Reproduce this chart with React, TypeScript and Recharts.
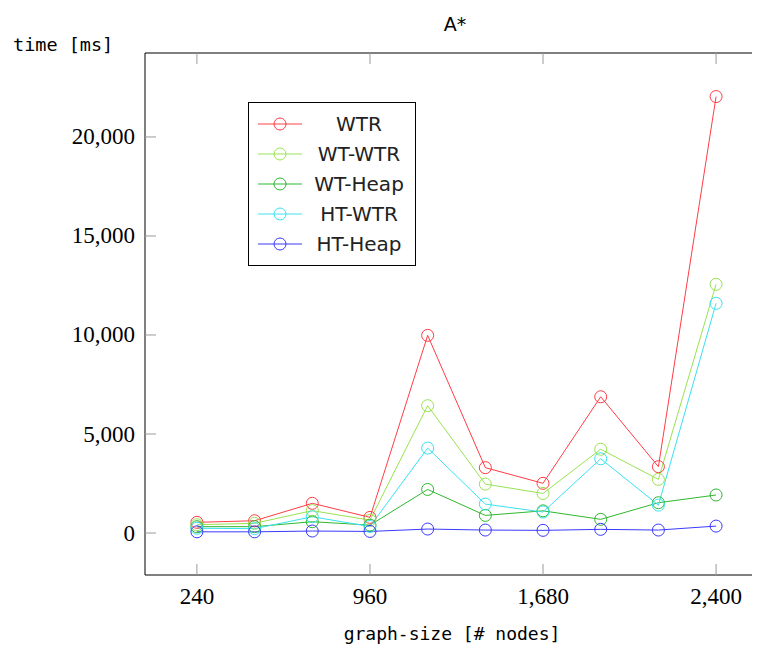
import React from "react";
import { LineChart, Line, XAxis, YAxis, ReferenceArea } from "recharts";

const sizes = [240, 480, 720, 960, 1200, 1440, 1680, 1920, 2160, 2400];
const wtr = [540, 620, 1500, 790, 9980, 3300, 2510, 6880, 3350, 22040];
const wtWtr = [420, 490, 1130, 650, 6430, 2470, 2000, 4230, 2710, 12560];
const wtHeap = [320, 320, 570, 400, 2200, 890, 1120, 690, 1530, 1920];
const htWtr = [240, 220, 820, 330, 4290, 1460, 1060, 3750, 1410, 11600];
const htHeap = [60, 60, 100, 80, 200, 150, 135, 185, 150, 350];

const xTicks = [240, 960, 1680, 2400];
const yTicks = [0, 5000, 10000, 15000, 20000];

const series = [
  { key: "wtr", name: "WTR", color: "#ff3c46", values: wtr },
  { key: "wtWtr", name: "WT-WTR", color: "#99e350", values: wtWtr },
  { key: "wtHeap", name: "WT-Heap", color: "#2fb72f", values: wtHeap },
  { key: "htWtr", name: "HT-WTR", color: "#3ae2ef", values: htWtr },
  { key: "htHeap", name: "HT-Heap", color: "#3a3aff", values: htHeap },
];

const data = sizes.map((s, i) => {
  const row: Record<string, number> = { size: s };
  series.forEach((se) => {
    row[se.key] = se.values[i];
  });
  return row;
});

// plot box inside the svg
const LEFT = 137;
const TOP = 45;
const RIGHT = 760;
const BOTTOM = 567;
const W = 770;
const H = 642;
const TICK = 11;

const fmt = (v: number) => v.toLocaleString("en-US");

const XTick = (props: any) => {
  const { x, payload } = props;
  return (
    <g>
      <line x1={x} y1={BOTTOM} x2={x} y2={BOTTOM - TICK} stroke="#9a9a9a" />
      <line x1={x} y1={TOP} x2={x} y2={TOP + TICK} stroke="#9a9a9a" />
      <text
        x={x}
        y={BOTTOM + 21}
        textAnchor="middle"
        dominantBaseline="central"
        fontFamily="'Liberation Serif', serif"
        fontSize={23}
        fill="#000"
      >
        {fmt(payload.value)}
      </text>
    </g>
  );
};

const YTick = (props: any) => {
  const { y, payload } = props;
  return (
    <g>
      <line x1={LEFT} y1={y} x2={LEFT + TICK} y2={y} stroke="#9a9a9a" />
      <line x1={RIGHT} y1={y} x2={RIGHT - TICK} y2={y} stroke="#9a9a9a" />
      <text
        x={LEFT - 10}
        y={y}
        textAnchor="end"
        dominantBaseline="central"
        fontFamily="'Liberation Serif', serif"
        fontSize={23}
        fill="#000"
      >
        {fmt(payload.value)}
      </text>
    </g>
  );
};

const LegendBox = () => (
  <div
    style={{
      position: "absolute",
      left: 240,
      top: 94,
      width: 166,
      height: 156,
      border: "1px solid #000",
      background: "#fff",
      paddingTop: 6,
      boxSizing: "content-box",
      fontFamily: "'DejaVu Sans', sans-serif",
      fontSize: 20,
      color: "#222",
    }}
  >
    {series.map((se) => (
      <div key={se.key} style={{ display: "flex", alignItems: "center", height: 30 }}>
        <svg width={60} height={30} style={{ flex: "none" }}>
          <line x1={9} y1={15} x2={53} y2={15} stroke={se.color} strokeWidth={1} />
          <circle cx={31} cy={15} r={6} fill="none" stroke={se.color} strokeWidth={1} />
        </svg>
        <span style={{ width: 100, textAlign: "center", lineHeight: "30px", whiteSpace: "nowrap" }}>
          {se.name}
        </span>
      </div>
    ))}
  </div>
);

export default function App() {
  return (
    <div style={{ position: "relative", width: 752, height: H, overflow: "hidden" }}>
      <LineChart
        width={W}
        height={H}
        data={data}
        margin={{ left: LEFT - 1, top: TOP, right: W - RIGHT, bottom: H - BOTTOM - 1 }}
      >
        <ReferenceArea
          x1={24}
          x2={2616}
          y1={-2120}
          y2={24240}
          fill="none"
          stroke="#000"
          strokeWidth={1}
          fillOpacity={0}
        />
        <XAxis
          dataKey="size"
          type="number"
          domain={[24, 2616]}
          ticks={xTicks}
          height={1}
          axisLine={false}
          tickLine={false}
          tickSize={0}
          tickMargin={0}
          tick={(p: any) => <XTick {...p} />}
          allowDataOverflow
          interval={0}
        />
        <YAxis
          type="number"
          domain={[-2120, 24240]}
          ticks={yTicks}
          width={1}
          axisLine={false}
          tickLine={false}
          tickSize={0}
          tickMargin={0}
          tick={(p: any) => <YTick {...p} />}
          allowDataOverflow
          interval={0}
        />
        {series.map((se) => (
          <Line
            key={se.key}
            type="linear"
            dataKey={se.key}
            name={se.name}
            stroke={se.color}
            strokeWidth={1}
            dot={{ r: 6, fill: "none", stroke: se.color, strokeWidth: 1 }}
            activeDot={false}
            isAnimationActive={false}
          />
        ))}
      </LineChart>
      <LegendBox />
      <div
        style={{
          position: "absolute",
          left: 0,
          width: 752,
          top: 5,
          textAlign: "center",
          paddingLeft: 142,
          boxSizing: "border-box",
          fontFamily: "'DejaVu Sans', sans-serif",
          fontSize: 19,
        }}
      >
        A*
      </div>
      <div
        style={{
          position: "absolute",
          left: 5,
          top: 26,
          fontFamily: "'DejaVu Sans Mono', monospace",
          fontSize: 18.5,
        }}
      >
        time [ms]
      </div>
      <div
        style={{
          position: "absolute",
          left: 0,
          width: 888,
          top: 615,
          textAlign: "center",
          fontFamily: "'DejaVu Sans Mono', monospace",
          fontSize: 18,
        }}
      >
        graph-size [# nodes]
      </div>
    </div>
  );
}
